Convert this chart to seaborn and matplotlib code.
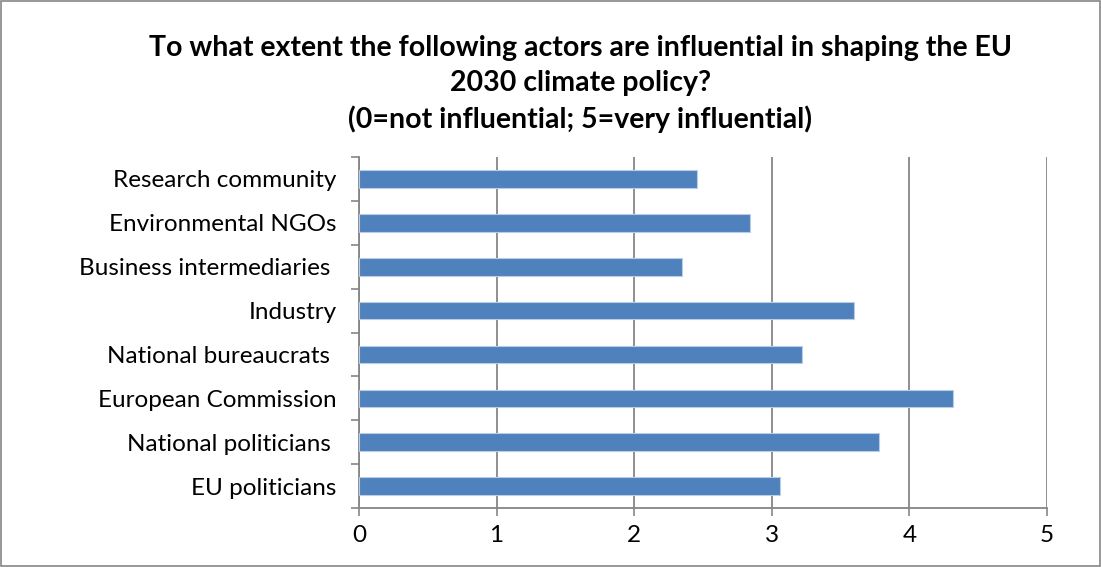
import pandas as pd
import numpy as np
import matplotlib
matplotlib.use("Agg")
import matplotlib.pyplot as plt
import seaborn as sns

actors = ["Research community", "Environmental NGOs", "Business intermediaries ",
          "Industry", "National bureaucrats ", "European Commission",
          "National politicians ", "EU politicians"]
scores = [2.46, 2.84, 2.35, 3.60, 3.22, 4.32, 3.78, 3.06]

df = pd.DataFrame({"actor": actors, "score": scores})

sns.set_style("white")
plt.rcParams['font.family'] = ['Lato', 'DejaVu Sans']
plt.rcParams['text.color'] = 'black'
plt.rcParams['xtick.color'] = 'black'
plt.rcParams['ytick.color'] = 'black'

fig = plt.figure(figsize=(11.01, 5.67), dpi=100)
ax = fig.add_axes([0.326, 0.104, 0.625, 0.619])

sns.barplot(data=df, x="score", y="actor", color="#4F81BD", width=0.4,
            edgecolor="#B9CDE5", linewidth=0.8, saturation=1, ax=ax, zorder=3)

ax.set_xlim(0, 5)
ax.set_ylim(len(actors) - 0.5, -0.5)
ax.set_xticks(range(6))
ax.xaxis.grid(True, color="#868686", linewidth=1.3, zorder=0)
ax.set_axisbelow(True)

# category boundary ticks on the value axis
ax.set_yticks(np.arange(-0.5, len(actors), 1.0), minor=True)
ax.tick_params(axis="y", which="minor", length=6, width=1.2, color="#868686", left=True)
ax.tick_params(axis="y", which="major", length=0, labelsize=17.5, pad=16)
ax.tick_params(axis="x", which="major", length=6, width=1.2, color="#868686",
               bottom=True, labelsize=17.5, pad=6)

for side in ["top", "right"]:
    ax.spines[side].set_visible(False)
for side in ["left", "bottom"]:
    ax.spines[side].set_color("#868686")
    ax.spines[side].set_linewidth(1.3)

ax.set_xlabel("")
ax.set_ylabel("")

title_lines = ["To what extent the following actors are influential in shaping the EU",
               "2030 climate policy?",
               "(0=not influential; 5=very influential)"]
for ypos, line in zip([0.915, 0.853, 0.789], title_lines):
    fig.text(0.527, ypos, line, ha="center", va="center", fontsize=20.5, fontweight="bold")

fig.patches.append(plt.Rectangle((0.001, 0.002), 0.998, 0.996, transform=fig.transFigure,
                                 fill=False, edgecolor="#868686", linewidth=1.2))

plt.savefig("out.png", dpi=100)
